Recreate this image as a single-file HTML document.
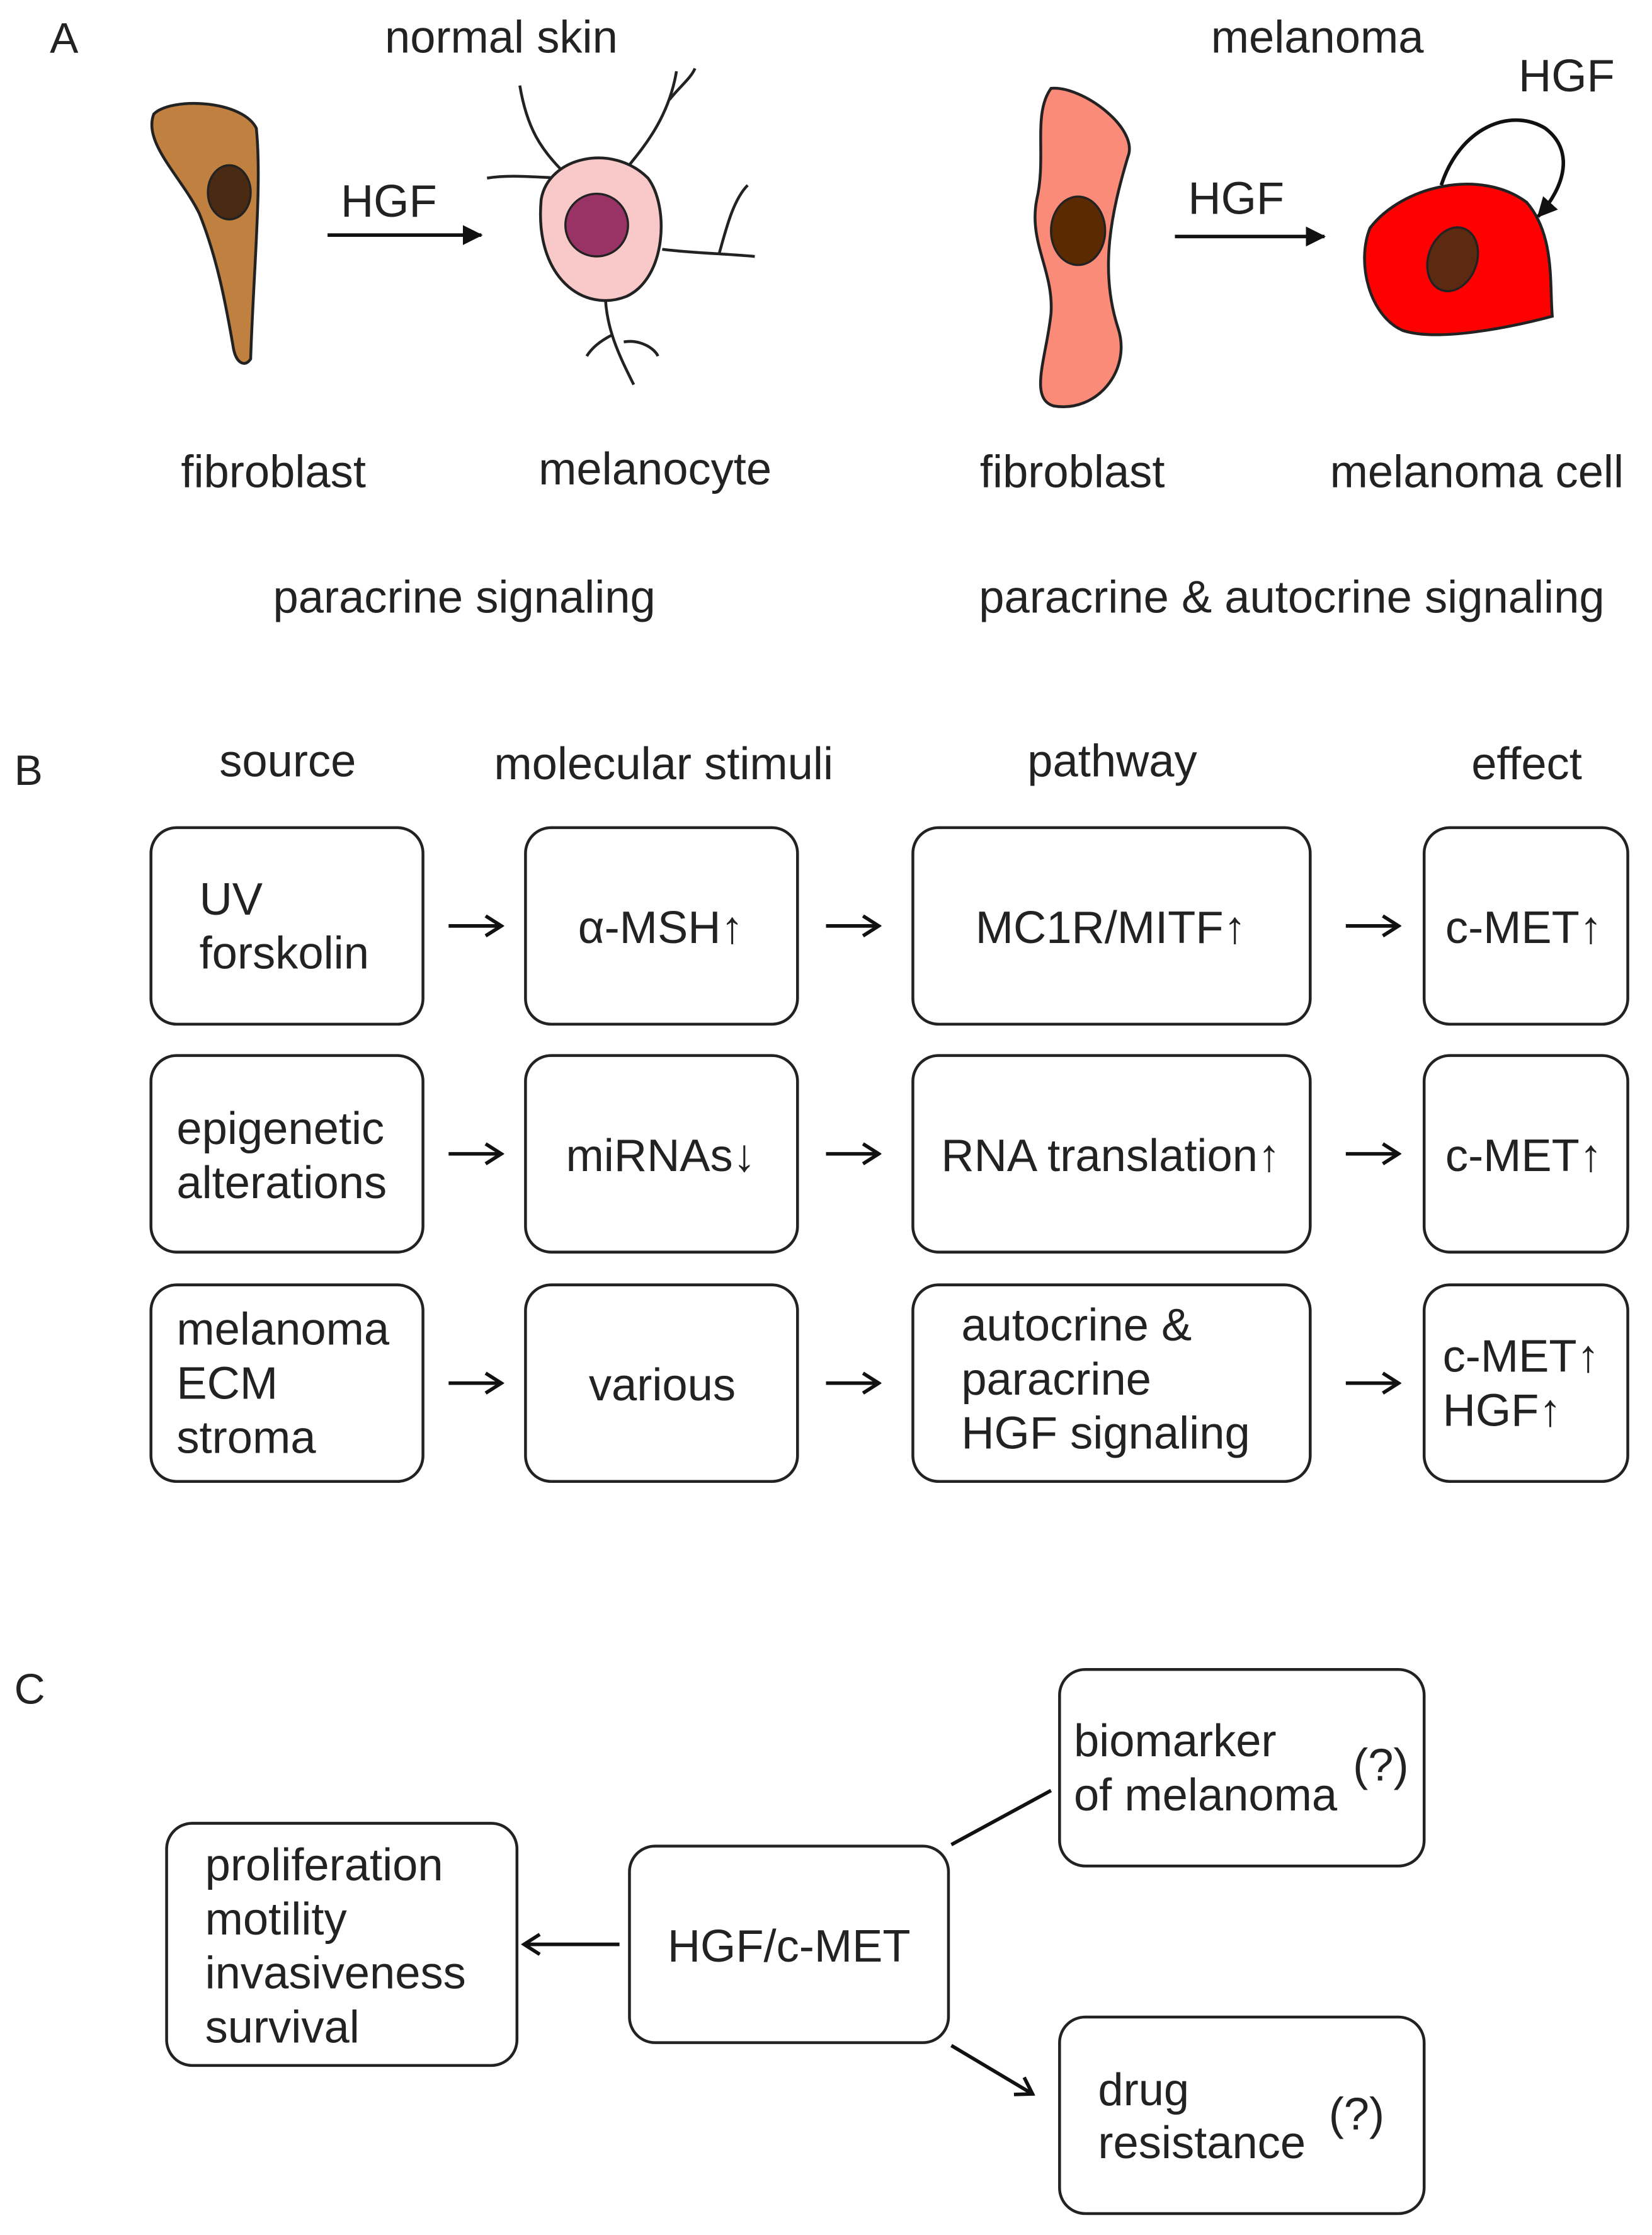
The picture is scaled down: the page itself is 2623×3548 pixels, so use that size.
<!DOCTYPE html>
<html><head><meta charset="utf-8"><style>
html,body{margin:0;padding:0;background:#fff;}
svg{display:block}
text{font-family:"Liberation Sans",Arial,sans-serif;fill:#222;}
</style></head><body>
<svg width="2623" height="3548" viewBox="0 0 1160 1569" xmlns="http://www.w3.org/2000/svg">
<defs>
<marker id="ah" markerWidth="14" markerHeight="14" refX="13" refY="7" orient="auto" markerUnits="userSpaceOnUse"><path d="M0,0 L14,7 L0,14 Z" fill="#111"/></marker>
<marker id="oa" markerWidth="14" markerHeight="16" refX="12" refY="8" orient="auto" markerUnits="userSpaceOnUse"><path d="M1,1 L12,8 L1,15" fill="none" stroke="#111" stroke-width="2.5"/></marker>
</defs>
<g font-size="32">
<text x="35" y="37" font-size="30">A</text>
<text x="352" y="37" text-anchor="middle">normal skin</text>
<text x="925" y="37" text-anchor="middle">melanoma</text>
<path d="M108,80 C120,68 170,70 180,90 C184,130 178,190 176,252 C172,258 166,255 164,245 C158,210 152,180 140,150 C128,125 100,100 108,80 Z" fill="#c0803f" stroke="#222" stroke-width="2"/>
<ellipse cx="161" cy="135" rx="15" ry="19" fill="#4a2a12" stroke="#222" stroke-width="1.5"/>
<text x="273" y="152" text-anchor="middle">HGF</text>
<line x1="230" y1="165" x2="338" y2="165" stroke="#111" stroke-width="2.5" marker-end="url(#ah)"/>
<g stroke="#222" stroke-width="2" fill="none">
<path d="M395,120 C380,105 370,90 365,60"/><path d="M440,118 C455,100 470,80 475,50"/><path d="M470,70 C478,60 485,55 488,48"/>
<path d="M400,125 C380,125 360,122 342,125"/><path d="M465,175 C490,178 510,178 530,180"/><path d="M505,178 C510,160 515,140 525,130"/>
<path d="M425,205 C425,230 435,250 445,270"/><path d="M430,235 C420,240 415,245 412,250"/><path d="M438,240 C450,238 460,245 462,250"/>
</g>
<path d="M380,140 C385,110 430,100 455,125 C470,145 468,195 440,208 C410,220 375,195 380,140 Z" fill="#f9c9c9" stroke="#222" stroke-width="2"/>
<circle cx="419" cy="158" r="22" fill="#993366" stroke="#222" stroke-width="1.5"/>
<text x="192" y="342" text-anchor="middle">fibroblast</text>
<text x="460" y="340" text-anchor="middle">melanocyte</text>
<text x="326" y="430" text-anchor="middle">paracrine signaling</text>
<path d="M738,62 C760,60 800,90 792,110 C780,150 772,190 785,230 C795,260 770,290 740,285 C722,280 735,250 738,220 C740,190 722,170 728,140 C735,110 725,80 738,62 Z" fill="#f98b78" stroke="#222" stroke-width="2"/>
<ellipse cx="757" cy="162" rx="19" ry="24" fill="#5c2a00" stroke="#222" stroke-width="1.5"/>
<text x="868" y="150" text-anchor="middle">HGF</text>
<line x1="825" y1="166" x2="930" y2="166" stroke="#111" stroke-width="2.5" marker-end="url(#ah)"/>
<path d="M962,160 C985,130 1040,118 1072,142 C1092,165 1088,200 1090,222 C1060,230 1010,240 985,232 C962,222 952,185 962,160 Z" fill="#ff0000" stroke="#222" stroke-width="2"/>
<ellipse cx="1020" cy="182" rx="17" ry="23" transform="rotate(20 1020 182)" fill="#5c2a10" stroke="#222" stroke-width="1.5"/>
<path d="M1012,130 C1025,90 1060,75 1085,90 C1105,105 1100,130 1080,152" fill="none" stroke="#111" stroke-width="2.5" marker-end="url(#ah)"/>
<text x="1100" y="64" text-anchor="middle">HGF</text>
<text x="753" y="342" text-anchor="middle">fibroblast</text>
<text x="1037" y="342" text-anchor="middle">melanoma cell</text>
<text x="907" y="430" text-anchor="middle">paracrine &amp; autocrine signaling</text>

<text x="10" y="551" font-size="30">B</text>
<text x="202" y="545" text-anchor="middle">source</text>
<text x="466" y="547" text-anchor="middle">molecular stimuli</text>
<text x="781" y="545" text-anchor="middle">pathway</text>
<text x="1072" y="547" text-anchor="middle">effect</text>
<g fill="none" stroke="#222" stroke-width="2">
<rect x="106" y="581" width="191" height="138" rx="18"/><rect x="369" y="581" width="191" height="138" rx="18"/><rect x="641" y="581" width="279" height="138" rx="18"/><rect x="1000" y="581" width="143" height="138" rx="18"/>
<rect x="106" y="741" width="191" height="138" rx="18"/><rect x="369" y="741" width="191" height="138" rx="18"/><rect x="641" y="741" width="279" height="138" rx="18"/><rect x="1000" y="741" width="143" height="138" rx="18"/>
<rect x="106" y="902" width="191" height="138" rx="18"/><rect x="369" y="902" width="191" height="138" rx="18"/><rect x="641" y="902" width="279" height="138" rx="18"/><rect x="1000" y="902" width="143" height="138" rx="18"/>
</g>
<g stroke="#111" stroke-width="2.5" fill="none">
<line x1="315" y1="650" x2="352" y2="650" marker-end="url(#oa)"/><line x1="580" y1="650" x2="617" y2="650" marker-end="url(#oa)"/><line x1="945" y1="650" x2="982" y2="650" marker-end="url(#oa)"/>
<line x1="315" y1="810" x2="352" y2="810" marker-end="url(#oa)"/><line x1="580" y1="810" x2="617" y2="810" marker-end="url(#oa)"/><line x1="945" y1="810" x2="982" y2="810" marker-end="url(#oa)"/>
<line x1="315" y1="971" x2="352" y2="971" marker-end="url(#oa)"/><line x1="580" y1="971" x2="617" y2="971" marker-end="url(#oa)"/><line x1="945" y1="971" x2="982" y2="971" marker-end="url(#oa)"/>
</g>
<text x="140" y="642">UV</text><text x="140" y="680">forskolin</text>
<text x="464" y="662" text-anchor="middle">α-MSH<tspan font-weight="bold">↑</tspan></text>
<text x="780" y="662" text-anchor="middle">MC1R/MITF<tspan font-weight="bold">↑</tspan></text>
<text x="1070" y="662" text-anchor="middle">c-MET<tspan font-weight="bold">↑</tspan></text>
<text x="124" y="803">epigenetic</text><text x="124" y="841">alterations</text>
<text x="464" y="822" text-anchor="middle">miRNAs<tspan font-weight="bold">↓</tspan></text>
<text x="780" y="822" text-anchor="middle">RNA translation<tspan font-weight="bold">↑</tspan></text>
<text x="1070" y="822" text-anchor="middle">c-MET<tspan font-weight="bold">↑</tspan></text>
<text x="124" y="944">melanoma</text><text x="124" y="982">ECM</text><text x="124" y="1020">stroma</text>
<text x="465" y="983" text-anchor="middle">various</text>
<text x="675" y="941">autocrine &amp;</text><text x="675" y="979">paracrine</text><text x="675" y="1017">HGF signaling</text>
<text x="1013" y="963">c-MET<tspan font-weight="bold">↑</tspan></text><text x="1013" y="1001">HGF<tspan font-weight="bold">↑</tspan></text>

<text x="10" y="1196" font-size="30">C</text>
<g fill="none" stroke="#222" stroke-width="2">
<rect x="744" y="1172" width="256" height="138" rx="18"/>
<rect x="744" y="1416" width="256" height="138" rx="18"/>
<rect x="442" y="1296" width="224" height="138" rx="18"/>
<rect x="117" y="1280" width="246" height="170" rx="18"/>
</g>
<line x1="668" y1="1295" x2="738" y2="1257" stroke="#111" stroke-width="2.5"/>
<line x1="668" y1="1436" x2="725" y2="1470" stroke="#111" stroke-width="2.5" marker-end="url(#oa)"/>
<line x1="435" y1="1365" x2="368" y2="1365" stroke="#111" stroke-width="2.5" marker-end="url(#oa)"/>
<text x="754" y="1233">biomarker</text><text x="754" y="1271">of melanoma</text><text x="950" y="1250">(?)</text>
<text x="771" y="1478">drug</text><text x="771" y="1515">resistance</text><text x="933" y="1495">(?)</text>
<text x="554" y="1377" text-anchor="middle">HGF/c-MET</text>
<text x="144" y="1320">proliferation</text><text x="144" y="1358">motility</text><text x="144" y="1396">invasiveness</text><text x="144" y="1434">survival</text>
</g>
</svg>
</body></html>
